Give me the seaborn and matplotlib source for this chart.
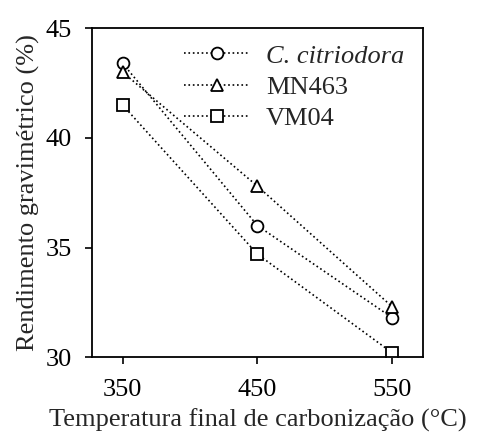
import matplotlib
matplotlib.use("Agg")
import matplotlib.pyplot as plt
import seaborn as sns
import pandas as pd

# Final carbonization temperatures (°C)
temperatures = [350, 450, 550]

# Gravimetric yield (%) for each material
citriodora = [43.4, 36.0, 31.8]
mn463 = [43.0, 37.8, 32.3]
vm04 = [41.5, 34.7, 30.2]

series_names = ["C. citriodora", "MN463", "VM04"]
series_values = [citriodora, mn463, vm04]
series_markers = ["o", "^", "s"]

y_ticks = [30, 35, 40, 45]

sns.set_theme(style="ticks")
plt.rcParams["font.family"] = ["Liberation Serif", "DejaVu Serif"]

fig = plt.figure(figsize=(4.87, 4.34), dpi=100)
ax = fig.add_axes([0.188, 0.177, 0.681, 0.758])

for name, values, mk in zip(series_names, series_values, series_markers):
    df = pd.DataFrame({"temp": temperatures, "yield": values})
    sns.lineplot(
        data=df, x="temp", y="yield", ax=ax,
        color="black", linestyle=":", linewidth=1.2,
        marker=mk, markersize=8.5 if mk != "s" else 9,
        markerfacecolor="white", markeredgecolor="black", markeredgewidth=1.3,
        label=name,
    )

ax.set_xlim(327, 573)
ax.set_ylim(30, 45)
ax.set_xticks(temperatures)
ax.set_yticks(y_ticks)
ax.tick_params(axis="both", labelsize=19, length=5, width=1.2, colors="black")
ax.tick_params(axis="y", pad=9)
ax.tick_params(axis="x", pad=11)
for sp in ax.spines.values():
    sp.set_linewidth(1.3)
    sp.set_color("black")

ax.set_xlabel("Temperatura final de carbonização (°C)", fontsize=19, labelpad=5)
ax.set_ylabel("Rendimento gravimétrico (%)", fontsize=19, labelpad=4)

leg = ax.legend(loc="upper right", frameon=False, fontsize=19, handlelength=2.5,
                handletextpad=0.6, labelspacing=0.3, borderaxespad=0.2,
                bbox_to_anchor=(0.99, 1.0))
leg.get_texts()[0].set_fontstyle("italic")

fig.savefig("out.png", dpi=100)
